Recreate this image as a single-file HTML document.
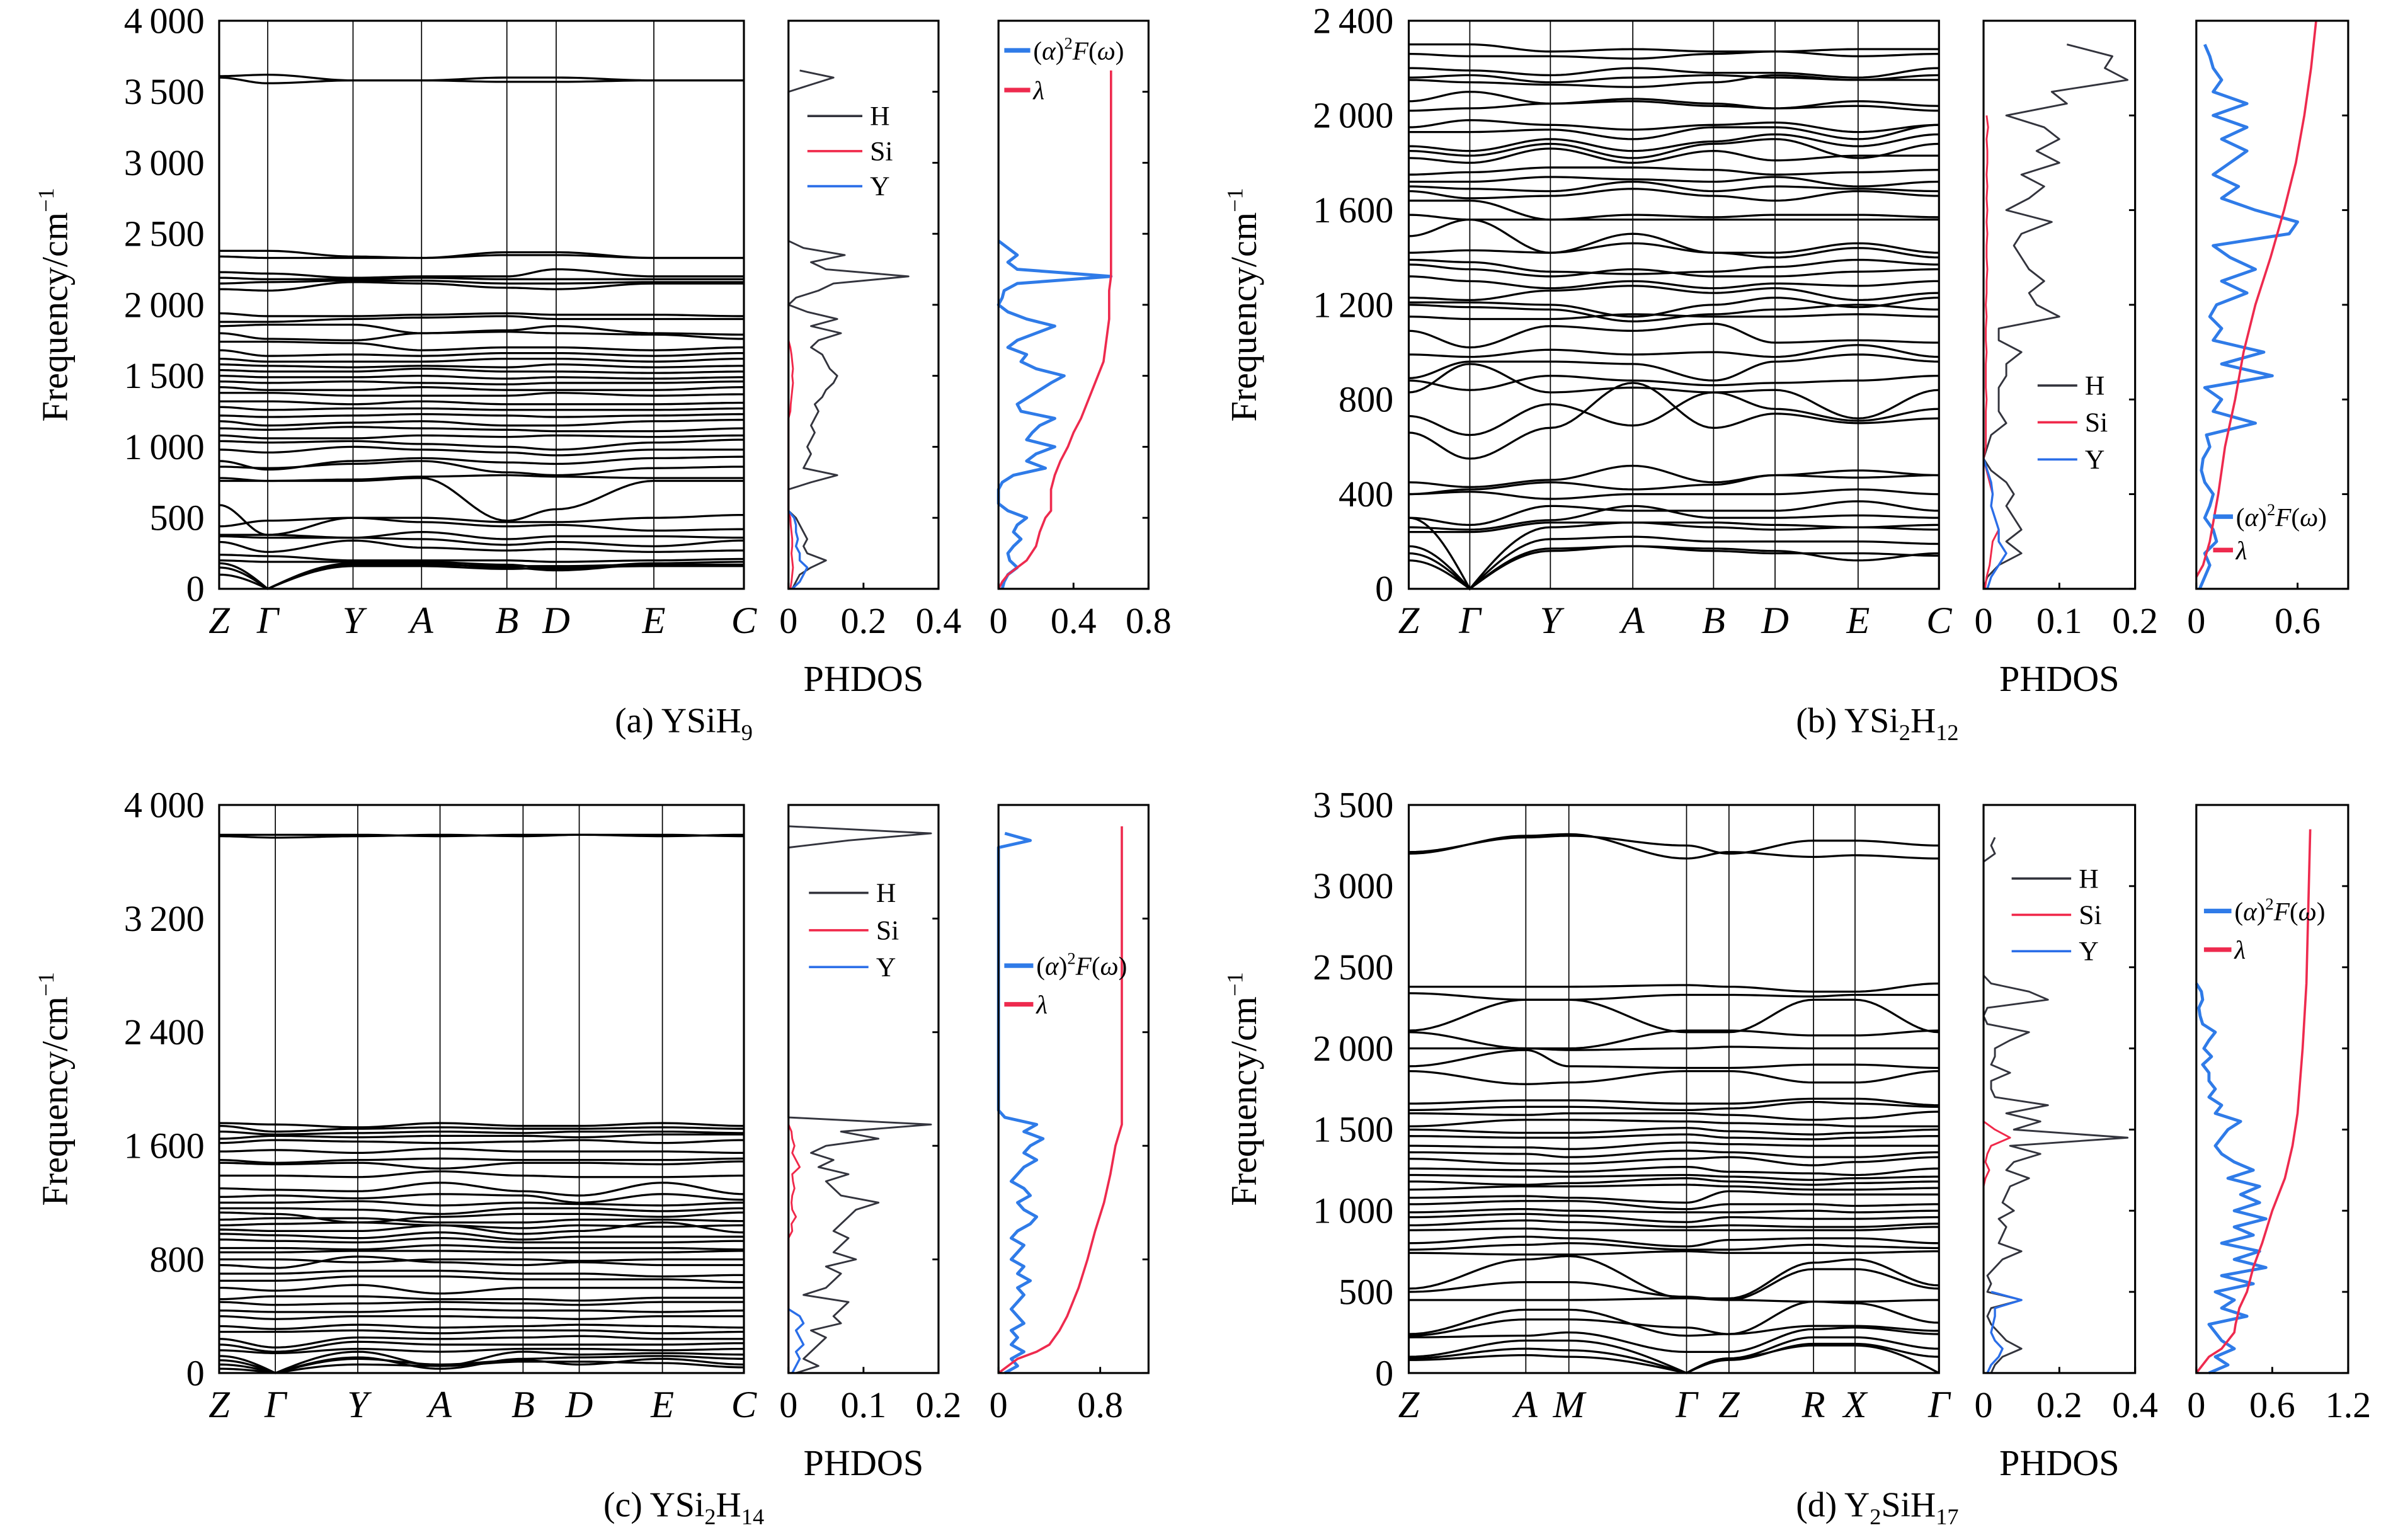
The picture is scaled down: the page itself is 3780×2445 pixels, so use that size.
<!DOCTYPE html>
<html><head><meta charset="utf-8"><style>
html,body{margin:0;padding:0;background:#fff;}
svg{display:block;}
text{font-family:"Liberation Serif",serif;fill:#000;}
</style></head><body>
<svg id="fig" width="3780" height="2445" viewBox="0 0 1560 1009" preserveAspectRatio="none" xmlns="http://www.w3.org/2000/svg"></svg>
<script>
// ---------- DATA ----------
const kLabelsA=["Z","Γ","Y","A","B","D","E","C"];
const kDistA=[0,31.8,87.7,132.6,188.5,220.8,284.8,343.8];
const bandsA=[
[3610,3620,3580,3580,3600,3600,3580,3580],[3600,3560,3580,3580,3570,3570,3580,3580],
[2380,2380,2340,2330,2370,2370,2330,2330],[2340,2330,2330,2330,2350,2350,2330,2330],
[2230,2220,2190,2200,2200,2250,2200,2200],[2190,2180,2180,2190,2180,2180,2180,2180],
[2150,2160,2170,2170,2150,2150,2160,2160],[2110,2100,2160,2150,2120,2110,2150,2150],
[1940,1920,1920,1930,1940,1930,1930,1920],[1880,1880,1900,1910,1920,1900,1900,1900],
[1850,1860,1860,1800,1820,1850,1800,1790],[1800,1760,1750,1800,1810,1800,1790,1760],
[1740,1740,1730,1680,1700,1700,1680,1700],[1680,1640,1650,1640,1660,1660,1640,1660],
[1620,1600,1600,1600,1620,1620,1600,1620],[1580,1570,1560,1570,1560,1580,1560,1570],
[1540,1530,1530,1550,1530,1530,1520,1530],[1500,1490,1490,1500,1480,1490,1480,1490],
[1460,1450,1460,1450,1440,1450,1450,1460],[1420,1400,1400,1420,1400,1400,1400,1420],
[1380,1380,1360,1360,1360,1380,1360,1370],[1320,1320,1300,1320,1300,1300,1300,1310],
[1280,1260,1270,1270,1260,1260,1260,1270],[1220,1210,1220,1230,1220,1210,1220,1230],
[1180,1150,1170,1180,1150,1150,1180,1190],[1130,1120,1140,1130,1120,1110,1110,1130],
[1080,1060,1060,1080,1070,1080,1070,1080],[1040,1030,1040,1020,1000,980,1030,1050],
[980,960,1000,980,960,940,980,980],[900,840,900,920,890,880,920,930],
[860,850,880,900,820,800,850,860],[780,760,770,790,800,790,780,780],
[760,760,760,780,480,560,760,760],[590,380,500,500,470,470,500,520],
[440,480,500,470,440,450,410,420],[380,380,360,400,350,370,370,360],
[370,360,360,350,310,330,300,340],[330,260,340,290,270,280,260,270],
[240,230,200,200,200,190,200,210],[200,190,190,190,170,140,180,190],
[180,0,180,180,150,130,170,170],[150,0,170,170,160,160,170,170],[100,0,160,160,140,150,160,160]];
const dosH_A=[0.01,0.02,0.03,0.06,0.1,0.05,0.04,0.05,0.04,0.03,0.02,0,0,0,0,0.06,0.13,0.04,0.05,0.06,0.05,0.06,0.07,0.06,0.07,0.08,0.07,0.09,0.1,0.12,0.13,0.11,0.1,0.09,0.06,0.08,0.14,0.06,0.13,0.05,0,0.02,0.08,0.12,0.32,0.1,0.06,0.15,0.04,0,0,0,0,0,0,0,0,0,0,0,0,0,0,0,0,0,0,0,0,0,0,0.06,0.12,0.03];
const dosSi_A=[0.005,0.008,0.01,0.012,0.01,0.008,0.01,0.01,0.008,0.006,0.005,0,0,0,0,0,0,0,0,0,0,0,0,0,0,0.005,0.006,0.008,0.01,0.012,0.01,0.012,0.01,0.008,0.005,0];
const dosY_A=[0.01,0.03,0.04,0.05,0.03,0.03,0.02,0.025,0.02,0.02,0.015,0];
const a2f_A=[0.02,0.03,0.05,0.1,0.06,0.05,0.08,0.12,0.08,0.1,0.15,0.05,0,0,0,0.02,0.08,0.25,0.15,0.2,0.3,0.15,0.18,0.22,0.3,0.12,0.1,0.16,0.22,0.28,0.35,0.2,0.12,0.15,0.05,0.1,0.2,0.3,0.15,0.05,0,0.02,0.03,0.1,0.6,0.1,0.05,0.1,0.05,0];
const lamF_A=[0,50,100,200,300,400,500,550,700,800,900,1000,1100,1200,1300,1400,1500,1600,1700,1800,1900,2100,2200,2400,3650];
const lamV_A=[0,0.02,0.05,0.15,0.2,0.22,0.25,0.28,0.28,0.3,0.33,0.37,0.4,0.44,0.47,0.5,0.53,0.56,0.57,0.58,0.59,0.59,0.6,0.6,0.6];

const kLabelsB=["Z","Γ","Y","A","B","D","E","C"];
const kDistB=[0,40,92.8,146.8,199.7,240,294.4,347.4];
const bandsB=[
[2300,2300,2270,2280,2270,2270,2280,2280],[2260,2250,2250,2240,2260,2270,2250,2260],
[2200,2190,2170,2200,2180,2180,2160,2200],[2160,2170,2140,2160,2170,2160,2150,2170],
[2150,2140,2130,2120,2140,2170,2150,2150],[2060,2100,2050,2070,2050,2030,2060,2040],
[2020,2030,2050,2060,2040,2030,2040,2020],[1950,1980,1960,1940,1960,1970,1930,1960],
[1930,1930,1940,1900,1950,1950,1900,1960],[1870,1850,1900,1850,1890,1920,1870,1920],
[1850,1830,1880,1820,1880,1900,1820,1880],[1820,1800,1860,1800,1850,1810,1830,1830],
[1750,1760,1780,1780,1770,1750,1760,1770],[1720,1720,1740,1730,1720,1740,1700,1720],
[1700,1690,1680,1720,1680,1700,1690,1680],[1680,1650,1660,1690,1660,1640,1680,1660],
[1640,1640,1560,1580,1570,1580,1580,1570],[1580,1560,1560,1560,1560,1560,1560,1560],
[1490,1560,1420,1500,1420,1420,1460,1420],[1420,1430,1420,1460,1420,1400,1440,1400],
[1390,1380,1340,1330,1340,1360,1390,1370],[1370,1350,1320,1350,1320,1320,1340,1350],
[1320,1300,1270,1300,1270,1290,1280,1300],[1230,1220,1260,1280,1250,1270,1220,1250],
[1210,1210,1200,1150,1200,1230,1190,1230],[1200,1190,1180,1130,1160,1180,1200,1180],
[1150,1140,1140,1160,1150,1150,1160,1150],[1090,1020,1110,1090,1120,1040,1050,1040],
[990,980,1010,990,1000,980,1030,980],[890,960,960,950,880,960,990,960],
[880,840,900,880,860,870,880,900],[830,950,830,850,830,840,720,840],
[730,650,780,690,830,760,710,760],[660,550,680,870,680,740,700,720],
[450,430,460,520,450,480,470,480],[400,420,450,420,440,480,500,480],
[400,410,380,400,400,400,420,400],[300,270,350,330,330,330,370,330],
[260,250,290,350,300,300,310,300],[240,240,280,280,280,270,260,270],
[180,0,210,220,200,200,200,190],[150,0,170,180,170,160,120,150],
[120,0,160,180,160,150,150,140],[300,0,260,280,260,250,260,250]];
const dosH_B=[0,0.005,0.02,0.05,0.03,0.05,0.04,0.03,0.04,0.03,0.01,0,0.005,0.01,0.03,0.02,0.02,0.02,0.03,0.03,0.05,0.02,0.02,0.1,0.07,0.06,0.08,0.06,0.05,0.04,0.05,0.09,0.03,0.06,0.08,0.05,0.1,0.07,0.1,0.08,0.03,0.11,0.09,0.19,0.16,0.17,0.11];
const dosSi_B=[0.002,0.004,0.008,0.01,0.012,0.02,0.015,0.01,0.012,0.008,0.004,0,0.003,0.003,0.003,0.003,0.004,0.003,0.003,0.003,0.004,0.003,0.003,0.004,0.003,0.004,0.004,0.005,0.004,0.004,0.005,0.004,0.005,0.004,0.005,0.004,0.005,0.005,0.004,0.006,0.004];
const dosY_B=[0.005,0.01,0.02,0.03,0.02,0.02,0.015,0.01,0.012,0.01,0.005,0];
const a2f_B=[0.02,0.05,0.08,0.05,0.12,0.1,0.05,0.08,0.1,0.05,0.03,0.04,0.08,0.06,0.35,0.1,0.15,0.05,0.45,0.15,0.4,0.1,0.15,0.08,0.12,0.3,0.15,0.35,0.2,0.1,0.55,0.6,0.35,0.15,0.25,0.1,0.2,0.3,0.15,0.3,0.1,0.3,0.1,0.15,0.1,0.08,0.05];
const lamF_B=[50,100,200,400,600,800,1000,1200,1400,1600,1800,2000,2200,2400];
const lamV_B=[0,0.04,0.08,0.13,0.17,0.23,0.28,0.35,0.44,0.52,0.59,0.64,0.68,0.71];

const kLabelsC=["Z","Γ","Y","A","B","D","E","C"];
const kDistC=[0,36.8,90.8,144.7,199.1,235.9,290.4,343.8];
const bandsC=[
[3790,3790,3790,3780,3790,3790,3780,3790],[3780,3770,3780,3790,3780,3790,3790,3780],
[1760,1750,1730,1760,1740,1740,1760,1740],[1740,1700,1720,1730,1720,1720,1730,1720],
[1700,1680,1690,1700,1690,1700,1700,1690],[1650,1670,1660,1670,1670,1660,1680,1680],
[1620,1640,1630,1620,1630,1640,1620,1640],[1560,1570,1550,1580,1560,1560,1560,1550],
[1500,1480,1500,1510,1500,1500,1500,1510],[1480,1470,1480,1440,1480,1480,1470,1490],
[1390,1390,1380,1420,1390,1380,1380,1390],[1300,1290,1280,1340,1280,1250,1340,1260],
[1240,1250,1230,1260,1250,1200,1260,1220],[1200,1200,1210,1180,1200,1190,1180,1200],
[1160,1160,1150,1120,1160,1160,1140,1160],[1130,1120,1060,1100,1120,1120,1100,1130],
[1080,1090,1090,1060,1060,1080,1080,1070],[1040,1050,1060,1040,1020,1040,1030,1040],
[1010,1000,1000,1040,980,1000,1060,990],[980,970,950,990,940,960,960,960],
[940,930,920,950,920,920,920,930],[880,880,870,900,880,880,880,870],
[850,850,860,860,850,850,850,860],[800,800,780,800,800,790,800,800],
[760,740,820,780,760,780,760,760],[700,700,720,720,700,700,680,690],
[650,650,680,680,660,660,660,640],[600,580,620,560,600,600,600,600],
[520,540,540,520,520,510,530,530],[500,480,490,500,490,480,500,500],
[440,430,430,450,440,440,430,440],[400,380,400,400,390,380,400,400],
[330,310,340,320,330,340,330,320],[290,290,300,280,300,300,280,290],
[240,180,250,240,250,260,240,240],[200,150,220,200,200,200,200,210],
[160,140,170,150,170,170,160,170],[120,0,150,50,150,130,140,130],
[90,0,110,30,100,110,120,100],[60,0,100,60,90,60,100,60],[30,0,60,50,80,80,70,40]];
const dosH_C=[0.01,0.04,0.02,0.03,0.04,0.05,0.03,0.07,0.06,0.07,0.08,0.02,0.05,0.06,0.07,0.05,0.09,0.06,0.07,0.08,0.06,0.07,0.08,0.09,0.12,0.07,0.06,0.05,0.08,0.04,0.06,0.03,0.05,0.12,0.07,0.19,0,0,0,0,0,0,0,0,0,0,0,0,0,0,0,0,0,0,0,0,0,0,0,0,0,0,0,0,0,0,0,0,0,0,0,0,0,0,0,0.08,0.19,0];
const dosSi_C=[0,0,0,0,0,0,0,0,0,0,0,0,0,0,0,0,0,0,0,0,0.005,0.004,0.01,0.005,0.004,0.005,0.008,0.006,0.005,0.015,0.01,0.005,0.008,0.005,0.004,0];
const dosY_C=[0.005,0.01,0.015,0.01,0.02,0.015,0.01,0.02,0.015,0];
const a2f_C=[0.05,0.15,0.1,0.2,0.1,0.15,0.1,0.2,0.15,0.1,0.15,0.2,0.15,0.25,0.15,0.2,0.1,0.15,0.2,0.1,0.15,0.25,0.3,0.2,0.15,0.25,0.2,0.1,0.15,0.2,0.3,0.2,0.25,0.35,0.2,0.3,0.05,0,0,0,0,0,0,0,0,0,0,0,0,0,0,0,0,0,0,0,0,0,0,0,0,0,0,0,0,0,0,0,0,0,0,0,0,0,0,0.25,0.05];
const lamF_C=[0,100,150,200,300,400,600,800,1000,1200,1400,1600,1750,3850];
const lamV_C=[0,0.15,0.3,0.4,0.48,0.54,0.63,0.7,0.76,0.83,0.88,0.92,0.97,0.97];

const kLabelsD=["Z","A","M","Γ","Z","R","X","Γ"];
const kDistD=[0,76.7,104.9,182,209.8,265.2,292.4,347.4];
const bandsD=[
[3200,3310,3320,3170,3210,3180,3190,3170],[3210,3300,3310,3250,3200,3280,3280,3250],
[2380,2380,2380,2390,2380,2350,2350,2400],[2340,2300,2300,2330,2330,2320,2330,2330],
[2110,2300,2300,2100,2100,2300,2300,2100],[2100,2000,2000,2110,2110,2080,2080,2110],
[2000,2000,1990,2000,2010,2000,2000,2000],[1890,1990,1890,1880,1880,1900,1900,1880],
[1860,1780,1790,1860,1860,1790,1790,1860],[1660,1680,1680,1660,1660,1690,1690,1650],
[1620,1640,1640,1620,1630,1670,1660,1640],[1600,1590,1600,1600,1590,1560,1570,1610],
[1520,1560,1560,1550,1540,1530,1520,1520],[1500,1480,1480,1510,1490,1470,1480,1500],
[1460,1450,1450,1470,1450,1440,1450,1460],[1400,1390,1380,1420,1410,1400,1400,1400],
[1360,1350,1330,1370,1360,1330,1330,1360],[1320,1290,1290,1320,1330,1280,1300,1330],
[1260,1250,1240,1270,1240,1230,1220,1260],[1220,1210,1210,1220,1210,1190,1200,1210],
[1180,1160,1170,1200,1180,1160,1170,1180],[1130,1150,1150,1160,1150,1130,1130,1140],
[1080,1090,1080,1050,1120,1100,1100,1100],[1040,1060,1060,1010,1040,1040,1030,1040],
[990,1010,1000,990,990,1000,990,1000],[960,980,970,930,960,950,950,960],
[910,940,930,900,910,900,900,920],[880,890,880,880,880,880,880,900],
[800,840,830,780,820,830,830,800],[760,790,800,760,760,790,780,770],
[740,730,730,750,740,740,740,750],[520,700,720,460,460,680,700,540],
[500,560,560,470,450,640,640,520],[450,450,450,460,450,440,440,450],
[240,390,390,230,240,440,430,310],[230,330,330,280,240,290,290,260],
[220,230,250,130,130,270,280,240],[100,200,200,0,90,220,220,150],
[90,150,140,0,80,180,180,100],[80,110,100,0,90,170,170,0]];
const dosH_D=[0.02,0.03,0.05,0.1,0.06,0.04,0.02,0.01,0.02,0.1,0.01,0.02,0.01,0.03,0.05,0.1,0.04,0.05,0.06,0.04,0.08,0.05,0.06,0.07,0.12,0.06,0.08,0.15,0.07,0.38,0.08,0.15,0.06,0.17,0.03,0.02,0.02,0.07,0.02,0.03,0.03,0.07,0.12,0.01,0,0.01,0.17,0.12,0.02,0,0,0,0,0,0,0,0,0,0,0,0,0,0,0,0.03,0.02,0.03];
const dosSi_D=[0,0,0,0,0,0,0,0,0,0,0,0,0,0,0,0,0,0,0,0,0,0,0,0,0.005,0.015,0.005,0.01,0.02,0.07,0.03,0];
const dosY_D=[0.01,0.02,0.04,0.05,0.03,0.02,0.025,0.03,0.03,0.1,0.02];
const a2f_D=[0.1,0.25,0.15,0.3,0.2,0.15,0.1,0.4,0.2,0.3,0.15,0.45,0.2,0.55,0.3,0.5,0.2,0.45,0.3,0.55,0.3,0.5,0.35,0.5,0.25,0.45,0.3,0.2,0.15,0.2,0.25,0.35,0.15,0.2,0.1,0.15,0.1,0.1,0.05,0.12,0.06,0.1,0.15,0.05,0.03,0.02,0.05,0.04,0];
const lamF_D=[0,100,150,250,300,400,500,650,800,1000,1200,1400,1600,2000,2400,3350];
const lamV_D=[0,0.1,0.2,0.3,0.31,0.34,0.4,0.45,0.52,0.6,0.7,0.76,0.8,0.84,0.87,0.9];

// ---------- RENDER ----------
const NS="http://www.w3.org/2000/svg";
const svg=document.getElementById('fig');
function mk(tag,attrs,parent){const e=document.createElementNS(NS,tag);for(const k in attrs)e.setAttribute(k,attrs[k]);(parent||svg).appendChild(e);return e;}
function fmt(v){const s=String(v);return s.length>3?s.slice(0,s.length-3)+"\u2009"+s.slice(-3):s;}

function panel(L,D){
  const g=mk('g',{});
  
  
  const fy=f=>L.y0-(f/L.fmax)*(L.y0-L.y1);
  const kx=d=>L.bx0+d/D.kDist[D.kDist.length-1]*(L.bx1-L.bx0);
  D.kDist.slice(1,-1).forEach(d=>{const l=mk('line',{x1:kx(d),x2:kx(d),y1:L.y1,y2:L.y0,stroke:'#000','stroke-width':0.7},g);
    });
  D.bands.forEach(b=>{
    let pts=[];
    for(let s=0;s<b.length-1;s++){
      const xa=kx(D.kDist[s]),xb=kx(D.kDist[s+1]);
      for(let i=0;i<=16;i++){const t=i/16;let v;
        const a=b[s],c=b[s+1];
        if(a===0)v=c*Math.sin(Math.PI/2*t);
        else if(c===0)v=a*Math.sin(Math.PI/2*(1-t));
        else v=a+(c-a)*(1-Math.cos(Math.PI*t))/2;
        pts.push((xa+(xb-xa)*t).toFixed(2)+','+fy(v).toFixed(2));}
    }
    const p=mk('polyline',{points:pts.join(' '),fill:'none',stroke:'#000','stroke-width':1.35},g);
    
  });
  const fr=mk('rect',{x:L.bx0,y:L.y1,width:L.bx1-L.bx0,height:L.y0-L.y1,fill:'none',stroke:'#000','stroke-width':1.3},g);
  
  L.yticks.forEach(v=>{const t=mk('text',{x:L.ylabX,y:fy(v)+8,'text-anchor':'end','font-size':24},g);t.textContent=fmt(v);
    });
  const yt=mk('text',{x:L.titleX,y:(L.y0+L.y1)/2,'text-anchor':'middle','font-size':24,transform:`rotate(-90 ${L.titleX} ${(L.y0+L.y1)/2})`},g);
  yt.innerHTML='Frequency/cm<tspan dy="-9" font-size="15">−1</tspan>';
  
  D.kLabels.forEach((lb,i)=>{const t=mk('text',{x:kx(D.kDist[i]),y:L.y0+29,'text-anchor':'middle','font-size':25,'font-style':'italic'},g);t.textContent=lb;
    });
  const dx=v=>L.dx0+v/L.dmax*(L.dx1-L.dx0);
  const ax=v=>L.ax0+v/L.amax*(L.ax1-L.ax0);
  function curve(vals,step,xf,col,w,name){
    const pts=vals.map((v,i)=>xf(v).toFixed(2)+','+fy(i*step).toFixed(2));
    const p=mk('polyline',{points:pts.join(' '),fill:'none',stroke:col,'stroke-width':w,'stroke-linejoin':'round'},g);
    
  }
  curve(D.dosH,50,dx,'#33343d',1.2,'phdos-h-curve');
  curve(D.dosSi,50,dx,'#f0284a',1.2,'phdos-si-curve');
  curve(D.dosY,50,dx,'#2a6ee8',1.4,'phdos-y-curve');
  curve(D.a2f,50,ax,'#2f7be8',2,'a2f-curve');
  const lp=D.lamF.map((f,i)=>ax(D.lamV[i]).toFixed(2)+','+fy(f).toFixed(2));
  const lam=mk('polyline',{points:lp.join(' '),fill:'none',stroke:'#ee2a4e','stroke-width':1.5},g);
  
  [[L.dx0,L.dx1,'phdos-frame',L.dticks,dx],[L.ax0,L.ax1,'a2f-frame',L.aticks,ax]].forEach(([x0,x1,nm,ticks,xf])=>{
    const r=mk('rect',{x:x0,y:L.y1,width:x1-x0,height:L.y0-L.y1,fill:'none',stroke:'#000','stroke-width':1.3},g);
    
    L.yticks.forEach(v=>{mk('line',{x1:x1-4,x2:x1,y1:fy(v),y2:fy(v),stroke:'#000','stroke-width':1.2},g);});
    ticks.forEach(v=>{mk('line',{x1:xf(v),x2:xf(v),y1:L.y0-4,y2:L.y0,stroke:'#000','stroke-width':1.2},g);
      const t=mk('text',{x:xf(v),y:L.y0+29,'text-anchor':'middle','font-size':24},g);t.textContent=String(v);
      });
  });
  const ph=mk('text',{x:(L.dx0+L.dx1)/2,y:L.y0+67,'text-anchor':'middle','font-size':24},g);ph.textContent='PHDOS';
  
  const cap=mk('text',{x:L.capX,y:L.y0+94,'text-anchor':'middle','font-size':23},g);cap.innerHTML=L.caption;
  
  [['H','#33343d'],['Si','#f0284a'],['Y','#2a6ee8']].forEach(([n,c],i)=>{
    const y=L.legY[i];
    const l=mk('line',{x1:L.legX0,x2:L.legX1,y1:y,y2:y,stroke:c,'stroke-width':1.5},g);
    
    const t=mk('text',{x:L.legX1+5,y:y+6,'font-size':18},g);t.textContent=n;
    
  });
  const la=[['a2f','#2f7be8'],['lam','#ee2a4e']];
  la.forEach(([n,c],i)=>{const y=L.aLegY[i];
    const l=mk('line',{x1:L.aLegX0,x2:L.aLegX1,y1:y,y2:y,stroke:c,'stroke-width':3},g);
    
    const t=mk('text',{x:L.aLegX1+2,y:y+6,'font-size':17},g);
    if(n==='a2f')t.innerHTML='(<tspan font-style="italic">α</tspan>)<tspan dy="-7" font-size="11">2</tspan><tspan dy="7" font-style="italic">F</tspan>(<tspan font-style="italic">ω</tspan>)';
    else t.innerHTML='<tspan font-style="italic">λ</tspan>';
    
  });
}
const left={bx0:143.6,bx1:487.4,dx0:516.6,dx1:614.9,ax0:654.2,ax1:752.5,ylabX:134,titleX:44,capX:448};
const right={bx0:923,bx1:1270.4,dx0:1299.6,dx1:1398.9,ax0:1439,ax1:1538.5,ylabX:913,titleX:823,capX:1230};
panel(Object.assign({},left,{name:'panel-a-ysih9',y0:385.8,y1:13.6,fmax:4000,yticks:[0,500,1000,1500,2000,2500,3000,3500,4000],
  dmax:0.4,dticks:[0,0.2,0.4],amax:0.8,aticks:[0,0.4,0.8],caption:'(a) YSiH<tspan dy="5" font-size="15">9</tspan>',
  legX0:529,legX1:565,legY:[76,99,122],aLegX0:658,aLegX1:675,aLegY:[33,59]}),
  {kLabels:kLabelsA,kDist:kDistA,bands:bandsA,dosH:dosH_A,dosSi:dosSi_A,dosY:dosY_A,a2f:a2f_A,lamF:lamF_A,lamV:lamV_A});
panel(Object.assign({},right,{name:'panel-b-ysi2h12',y0:385.8,y1:13.6,fmax:2400,yticks:[0,400,800,1200,1600,2000,2400],
  dmax:0.2,dticks:[0,0.1,0.2],amax:0.9,aticks:[0,0.6],caption:'(b) YSi<tspan dy="5" font-size="15">2</tspan><tspan dy="-5">H</tspan><tspan dy="5" font-size="15">12</tspan>',
  legX0:1335,legX1:1361,legY:[252.6,276.7,301],aLegX0:1450,aLegX1:1463,aLegY:[338.5,360.4]}),
  {kLabels:kLabelsB,kDist:kDistB,bands:bandsB,dosH:dosH_B,dosSi:dosSi_B,dosY:dosY_B,a2f:a2f_B,lamF:lamF_B,lamV:lamV_B});
panel(Object.assign({},left,{name:'panel-c-ysi2h14',y0:899.6,y1:527.4,fmax:4000,yticks:[0,800,1600,2400,3200,4000],
  dmax:0.2,dticks:[0,0.1,0.2],amax:1.18,aticks:[0,0.8],caption:'(c) YSi<tspan dy="5" font-size="15">2</tspan><tspan dy="-5">H</tspan><tspan dy="5" font-size="15">14</tspan>',
  legX0:530,legX1:569,legY:[585,609.5,633.6],aLegX0:658,aLegX1:677,aLegY:[632.7,658]}),
  {kLabels:kLabelsC,kDist:kDistC,bands:bandsC,dosH:dosH_C,dosSi:dosSi_C,dosY:dosY_C,a2f:a2f_C,lamF:lamF_C,lamV:lamV_C});
panel(Object.assign({},right,{name:'panel-d-y2sih17',y0:899.6,y1:527.4,fmax:3500,yticks:[0,500,1000,1500,2000,2500,3000,3500],
  dmax:0.4,dticks:[0,0.2,0.4],amax:1.2,aticks:[0,0.6,1.2],caption:'(d) Y<tspan dy="5" font-size="15">2</tspan><tspan dy="-5">SiH</tspan><tspan dy="5" font-size="15">17</tspan>',
  legX0:1318,legX1:1357,legY:[575.6,599.4,623.2],aLegX0:1444,aLegX1:1462,aLegY:[596.9,622.2]}),
  {kLabels:kLabelsD,kDist:kDistD,bands:bandsD,dosH:dosH_D,dosSi:dosSi_D,dosY:dosY_D,a2f:a2f_D,lamF:lamF_D,lamV:lamV_D});
</script>
</body></html>
